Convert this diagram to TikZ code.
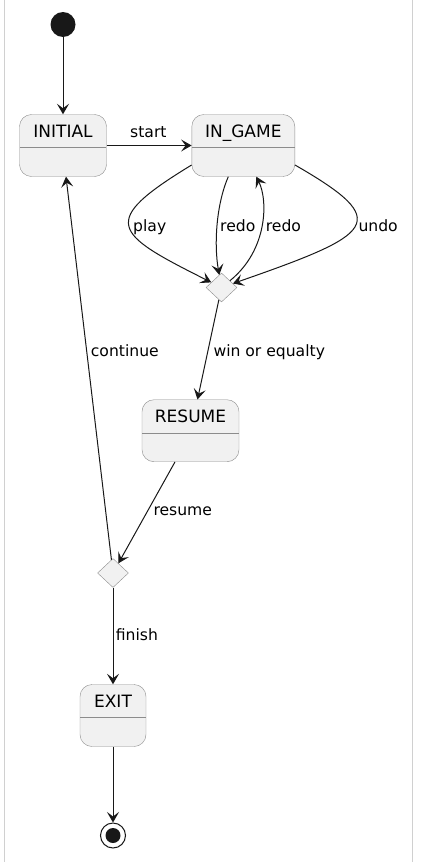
\documentclass[tikz,border=0pt]{standalone}
\usepackage{fontspec}
\setmainfont{DejaVu Sans}
\usetikzlibrary{arrows.meta,shapes.geometric}
\definecolor{statefill}{HTML}{F1F1F1}
\definecolor{stateline}{HTML}{8C8C8C}
\definecolor{edgeline}{HTML}{181818}
\definecolor{framegray}{HTML}{D0D0D0}
\tikzset{state/.style={draw=stateline, fill=statefill, rounded corners=12pt, minimum width=#1, minimum height=62pt,
    inner xsep=0pt, inner ysep=10.2pt, text height=12.5pt, text depth=29.1pt, font=\fontsize{17}{20}\selectfont,
    path picture={\draw [stateline] ([yshift=-33pt]path picture bounding box.north west) -- ([yshift=-33pt]path picture bounding box.north east);}}}
\tikzset{choice/.style={diamond, draw=stateline, fill=statefill, minimum width=31pt, minimum height=29pt, inner sep=0pt}}
\tikzset{trans/.style={draw=edgeline, line width=1pt, -{Stealth[length=10.5pt,width=12pt,inset=4.5pt]}}}
\tikzset{lbl/.style={anchor=base west, inner sep=0pt, font=\fontsize{15.6}{18}\selectfont}}
\tikzset{dot/.style={circle, fill=edgeline, inner sep=0pt, minimum size=25pt}}
\tikzset{final/.style={circle, draw=edgeline, line width=1pt, fill=white, inner sep=0pt, minimum size=25pt,
    path picture={\fill [edgeline] (path picture bounding box.center) circle (7.5pt);}}}

\begin{document}
\begin{tikzpicture}[x=1pt, y=-1pt]
    \useasboundingbox (0,0) rectangle (441,862);
    \draw [framegray] (4,0) -- (4,862);
    \draw [framegray] (412,0) -- (412,862);
    \node [dot] (start) at (63,24.5) {};
    \node [state=87pt] (initial) at (63,145.5) {INITIAL};
    \node [state=103pt] (ingame) at (243.3,145.5) {IN\_GAME};
    \node [choice] (dia1) at (221.5,287.5) {};
    \node [state=97pt] (resume) at (190.5,430.7) {RESUME};
    \node [choice] (dia2) at (113,573) {};
    \node [state=66pt] (exit) at (113,715.5) {EXIT};
    \node [final] (end) at (113,835.5) {};
    \draw [trans] (start) -- (initial);
    \draw [trans] (initial) -- (ingame);
    \node [lbl] (lstart) at (130,137) {start};
    \draw [trans] ([yshift=-19.5pt]ingame.west) .. controls (98,222) and (113,233) .. (dia1);
    \draw [trans] ([xshift=-15pt]ingame.south) .. controls (216,205) and (214,245) .. (dia1);
    \draw [trans] (dia1) .. controls (268,250) and (268,200) .. ([xshift=13pt]ingame.south);
    \draw [trans] ([yshift=-19.5pt]ingame.east) .. controls (394,222) and (375,234) .. (dia1);
    \node [lbl] (lplay) at (133,231) {play};
    \node [lbl] (lredo1) at (220,231) {redo};
    \node [lbl] (lredo2) at (265.7,231) {redo};
    \node [lbl] (lundo) at (358.3,231) {undo};
    \draw [trans] (dia1) -- ([xshift=7pt]resume.north);
    \node [lbl] (lwin) at (213.3,356.7) {win or equalty};
    \draw [trans] ([xshift=-15.5pt]resume.south) -- (dia2);
    \node [lbl] (lresume) at (153.3,515) {resume};
    \draw [trans] (dia2) -- ([xshift=3pt]initial.south);
    \node [lbl] (lcontinue) at (90.7,356.7) {continue};
    \draw [trans] (dia2) -- (exit);
    \node [lbl] (lfinish) at (115.7,640.7) {finish};
    \draw [trans] (exit) -- (end);
\end{tikzpicture}
\end{document}
